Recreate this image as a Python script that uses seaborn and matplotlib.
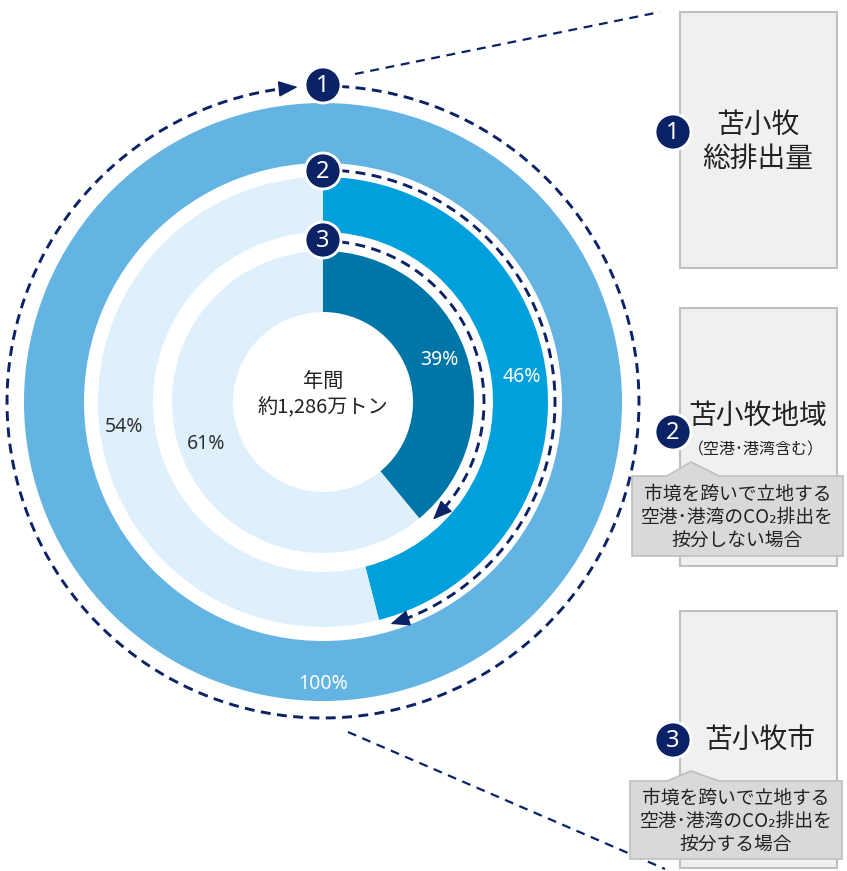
import numpy as np
import matplotlib.pyplot as plt
import seaborn as sns
from matplotlib.patches import Rectangle, Polygon, Circle

# data
ring_names = ['苫小牧総排出量', '苫小牧地域', '苫小牧市']
ring_shares = [100, 46, 39]
ring_colors = ['#63b3e3', '#00a0dc', '#0075a8']
rest_color = '#ddf0fc'
center_lines = ['年間', '約1,286万トン']
box_titles = ['苫小牧\n総排出量', '苫小牧地域', '苫小牧市']
box_subtitle = '（空港･港湾含む）'
callout_texts = ['市境を跨いで立地する\n空港･港湾のCO₂排出を\n按分しない場合',
                 '市境を跨いで立地する\n空港･港湾のCO₂排出を\n按分する場合']

sns.set_theme(style='white')
plt.rcParams['font.family'] = ['Noto Sans CJK JP', 'DejaVu Sans']

W, H = 847, 871
navy = '#0b2266'
txt = '#222222'

def yy(py):
    # pixel row -> axis y (y up)
    return H - py

fig = plt.figure(figsize=(W / 100, H / 100), dpi=100)
ax = fig.add_axes([0, 0, 1, 1])

cx, cy = 323, yy(402)
radii = [299, 225, 151]
widths = [60, 55, 61]
pct_dist = [0.943, 0.89, 0.82]

for share, col, r, w, pdist in zip(ring_shares, ring_colors, radii, widths, pct_dist):
    vals = [share, 100 - share] if share < 100 else [share]
    wedges, texts, autotexts = ax.pie(
        vals, radius=r, center=(cx, cy), startangle=90, counterclock=False,
        colors=[col, rest_color], wedgeprops=dict(width=w, linewidth=0),
        autopct=lambda p: f'{p:.0f}%', pctdistance=pdist,
        textprops=dict(fontsize=14, family=['Noto Sans', 'DejaVu Sans']))
    autotexts[0].set_color('white')
    if len(autotexts) > 1:
        autotexts[1].set_color('#333333')

# center text
ax.text(cx, yy(381), center_lines[0], ha='center', va='center', fontsize=14.5, color=txt)
ax.text(cx, yy(408), center_lines[1], ha='center', va='center', fontsize=14.5, color=txt)

# dashed arcs with arrows
arc_r = [316, 232, 161]
arc_end = [94.6 - 360, 90 - 360 * 0.46 + 2.5, 90 - 360 * 0.39 + 3.5]
badge_r = [317, 231, 162]
for r, end in zip(arc_r, arc_end):
    back = np.degrees(12 / r)
    th = np.radians(np.linspace(90, end + back, 400))
    ax.plot(cx + r * np.cos(th), cy + r * np.sin(th), color=navy, lw=2.1,
            dashes=(3.4, 2.2), zorder=3)
    t0, t1 = np.radians(end + back), np.radians(end)
    ax.annotate('', xy=(cx + r * np.cos(t1), cy + r * np.sin(t1)),
                xytext=(cx + r * np.cos(t0), cy + r * np.sin(t0)),
                arrowprops=dict(arrowstyle='-|>,head_length=0.6,head_width=0.25',
                                color=navy, lw=1, mutation_scale=20,
                                shrinkA=0, shrinkB=0), zorder=4)

# zoom lines to the right panels
ax.plot([355, 660], [yy(74), yy(12)], color=navy, lw=1.6, dashes=(4, 3), zorder=2)
ax.plot([348, 665], [yy(732), yy(869)], color=navy, lw=1.6, dashes=(4, 3), zorder=2)

def badge(x, y, n):
    ax.add_patch(Circle((x, y), 18, fc=navy, ec='white', lw=2, zorder=6))
    ax.text(x, y - 1, str(n), ha='center', va='center', color='white', fontsize=17,
            family=['Noto Sans', 'DejaVu Sans'], weight='bold', zorder=7)

for i, r in enumerate(badge_r):
    badge(cx, cy + r, i + 1)

# right panels
boxes = [(680, 12, 268), (680, 308, 566), (680, 611, 868)]
for x0, top, bot in boxes:
    ax.add_patch(Rectangle((x0, yy(bot)), 157, bot - top, fc='#f0f0f0',
                           ec='#bfbfbf', lw=1.5, zorder=1))

ax.text(758, yy(142), box_titles[0], ha='center', va='center', fontsize=20,
        color=txt, linespacing=1.15, zorder=7)
ax.text(758, yy(416), box_titles[1], ha='center', va='center', fontsize=20,
        color=txt, zorder=7)
ax.text(756, yy(450), box_subtitle, ha='center', va='center', fontsize=11.5,
        color=txt, zorder=7)
ax.text(760, yy(740), box_titles[2], ha='center', va='center', fontsize=20,
        color=txt, zorder=7)

badge(673, yy(132), 1)
badge(673, yy(432), 2)
badge(673, yy(740), 3)

callouts = [(632, 843, 476, 556, 462), (630, 842, 781, 859, 771)]
for (l, rr, top, bot, tip), t in zip(callouts, callout_texts):
    pts = [(l, top), (667, top), (691, tip), (719, top), (rr, top), (rr, bot), (l, bot)]
    ax.add_patch(Polygon([(px, yy(py)) for px, py in pts], closed=True,
                         fc='#d9d9d9', ec='#bfbfbf', lw=1.2, zorder=8))
    ax.text((l + rr) / 2, yy((top + bot) / 2 + 1), t, ha='center', va='center',
            fontsize=13.5, color=txt, linespacing=1.12, zorder=9)

ax.set_xlim(0, W)
ax.set_ylim(0, H)
ax.set_axis_off()
fig.savefig('out.png', dpi=100)
